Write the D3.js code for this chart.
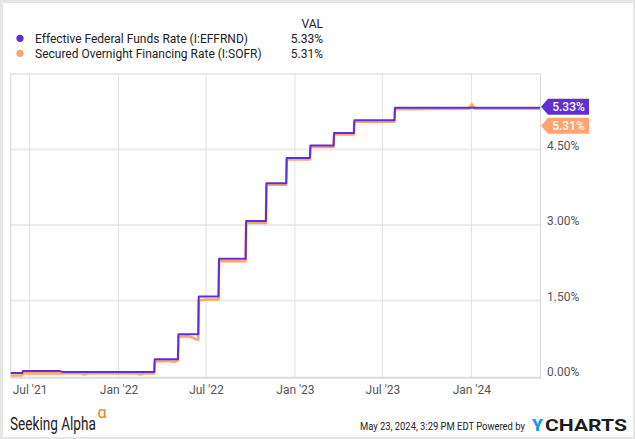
<!DOCTYPE html>
<html><head><meta charset="utf-8">
<script src="https://cdn.jsdelivr.net/npm/d3@7"></script>
<style>body{margin:0;background:#fff}svg{display:block}text{font-family:Roboto,"Open Sans",sans-serif}</style>
</head><body>
<svg id="c" width="635" height="439"></svg>
<script>
const effDates = ["2021-05-23","2021-06-16","2021-06-17","2021-08-31","2021-09-07","2022-03-16","2022-03-17","2022-05-04","2022-05-05","2022-06-15","2022-06-16","2022-07-27","2022-07-28","2022-09-21","2022-09-22","2022-11-02","2022-11-03","2022-12-14","2022-12-15","2023-02-01","2023-02-02","2023-03-22","2023-03-23","2023-05-03","2023-05-04","2023-07-26","2023-07-27","2024-05-22"];
const effValues = [0.06,0.06,0.10,0.10,0.08,0.08,0.33,0.33,0.83,0.83,1.58,1.58,2.33,2.33,3.08,3.08,3.83,3.83,4.33,4.33,4.58,4.58,4.83,4.83,5.08,5.08,5.33,5.33];
const sofrDates = ["2021-05-23","2021-06-16","2021-06-17","2021-10-15","2021-10-22","2021-10-29","2022-02-08","2022-02-15","2022-02-22","2022-03-16","2022-03-17","2022-04-15","2022-04-25","2022-05-04","2022-05-05","2022-05-25","2022-06-01","2022-06-10","2022-06-15","2022-06-16","2022-06-30","2022-07-27","2022-07-28","2022-09-21","2022-09-22","2022-11-02","2022-11-03","2022-12-14","2022-12-15","2023-02-01","2023-02-02","2023-03-22","2023-03-23","2023-05-03","2023-05-04","2023-07-26","2023-07-27","2023-12-27","2024-01-02","2024-01-08","2024-05-22"];
const sofrValues = [0.01,0.01,0.05,0.05,0.03,0.05,0.05,0.03,0.05,0.05,0.29,0.30,0.28,0.30,0.78,0.79,0.77,0.73,0.72,1.50,1.52,1.52,2.28,2.28,3.04,3.04,3.80,3.80,4.30,4.30,4.55,4.55,4.80,4.80,5.05,5.05,5.30,5.31,5.40,5.31,5.31];
const seriesNames = ["Effective Federal Funds Rate (I:EFFRND)","Secured Overnight Financing Rate (I:SOFR)"];
const lastValues = ["5.33%","5.31%"];
const yTicks = [0,1.5,3,4.5];
const xTickDates = ["2021-07-01","2022-01-01","2022-07-01","2023-01-01","2023-07-01","2024-01-01"];
const xTickLabels = ["Jul '21","Jan '22","Jul '22","Jan '23","Jul '23","Jan '24"];

const purple = "#5e30d2", orange = "#ffa46e";
const parse = d3.timeParse("%Y-%m-%d");
const svg = d3.select("#c");
svg.append("rect").attr("width",635).attr("height",439).attr("fill","#e6e6e6");
svg.append("rect").attr("x",3).attr("y",3).attr("width",630).attr("height",434).attr("fill","#fff");

const L=10.7,R=540.5,T=74,B=377.7;
const x = d3.scaleTime().domain([parse("2021-05-23"),parse("2024-05-23")]).range([L,R]);
const y = d3.scaleLinear().domain([-0.035,6.0]).range([B,T]);

const g = svg.append("g");
g.selectAll(".hg").data(yTicks.filter(v=>v>0)).join("line")
 .attr("x1",L).attr("x2",R).attr("y1",d=>y(d)).attr("y2",d=>y(d)).attr("stroke","#ececec").attr("stroke-width",2);
g.selectAll(".vg").data(xTickDates).join("line")
 .attr("x1",d=>x(parse(d))).attr("x2",d=>x(parse(d))).attr("y1",T).attr("y2",B).attr("stroke","#e2e2e2").attr("stroke-width",1);
svg.append("rect").attr("x",L).attr("y",T).attr("width",R-L).attr("height",B-T).attr("fill","none").attr("stroke","#d8d8d8").attr("stroke-width",1);
svg.append("line").attr("x1",L).attr("x2",R).attr("y1",B).attr("y2",B).attr("stroke","#dcdcdc").attr("stroke-width",2);

const yAxis = d3.axisRight(y).tickValues(yTicks).tickSize(0).tickPadding(0).tickFormat(d=>d.toFixed(2)+"%");
const ya = svg.append("g").attr("transform",`translate(${R+6.5},-4)`).call(yAxis);
ya.select(".domain").remove();
ya.selectAll("text").attr("font-size",12).attr("fill","#555").attr("font-family","Roboto");
const xAxis = d3.axisBottom(x).tickValues(xTickDates.map(parse)).tickSize(0).tickPadding(0).tickFormat((d,i)=>xTickLabels[i]);
const xa = svg.append("g").attr("transform",`translate(0,${B+8})`).call(xAxis);
xa.select(".domain").remove();
xa.selectAll("text").attr("font-size",12).attr("fill","#555").attr("font-family","Roboto");

const line = d3.line().x(d=>x(d[0])).y(d=>y(d[1]));
const sofr = sofrDates.map((d,i)=>[parse(d),sofrValues[i]]);
const eff = effDates.map((d,i)=>[parse(d),effValues[i]]);
svg.append("path").attr("d",line(sofr)).attr("fill","none").attr("stroke",orange).attr("stroke-width",2.6).attr("stroke-linejoin","round");
svg.append("path").attr("d",line(eff)).attr("fill","none").attr("stroke",purple).attr("stroke-width",2).attr("stroke-linejoin","round");

function tag(cy,color,txt){
  const x0=R+0.5, w=48, h=16;
  svg.append("path").attr("d",`M${x0},${cy} L${x0+7},${cy-h/2} L${x0+w},${cy-h/2} L${x0+w},${cy+h/2} L${x0+7},${cy+h/2} Z`).attr("fill",color);
  svg.append("text").attr("x",x0+27.5).attr("y",cy+4.3).attr("text-anchor","middle").attr("font-size",12).attr("font-weight",500).attr("fill","#fff").text(txt);
}
tag(y(5.33)-1,purple,lastValues[0]);
tag(y(5.33)+18,orange,lastValues[1]);

const lg = svg.append("g");
lg.append("text").attr("x",323).attr("y",27.5).attr("text-anchor","end").attr("font-size",12).attr("fill","#222").text("VAL");
[purple,orange].forEach((c,i)=>{
  const cy = 38.3+i*15;
  lg.append("circle").attr("cx",20).attr("cy",cy).attr("r",3.6).attr("fill",c);
  lg.append("text").attr("x",35).attr("y",cy+4.3).attr("font-size",12).attr("fill","#222").text(seriesNames[i]);
  lg.append("text").attr("x",323).attr("y",cy+4.3).attr("text-anchor","end").attr("font-size",12).attr("fill","#222").text(lastValues[i]);
});

function fitText(xp,yp,w,txt,size,family,weight,fill){
  const t = svg.append("text").attr("x",0).attr("y",0).attr("font-size",size).attr("font-family",family).attr("font-weight",weight).attr("fill",fill).text(txt);
  const len = t.node().getComputedTextLength();
  t.attr("transform",`translate(${xp},${yp}) scale(${w/len},1)`);
  return t;
}
fitText(10,430,86,"Seeking Alpha",18,"Lato",400,"#222");
svg.append("text").attr("x",97.5).attr("y",418).attr("font-size",16).attr("font-family","DejaVu Sans").attr("fill","#f57c1f").text("α");
fitText(360,430,165,"May 23, 2024, 3:29 PM EDT Powered by",11.5,"Roboto",400,"#222");
fitText(532,431,11,"Y",16.5,"Roboto",900,"#1c9be6");
fitText(545,431,82,"CHARTS",16.5,"Roboto",700,"#1d1d1d");
</script>
</body></html>
